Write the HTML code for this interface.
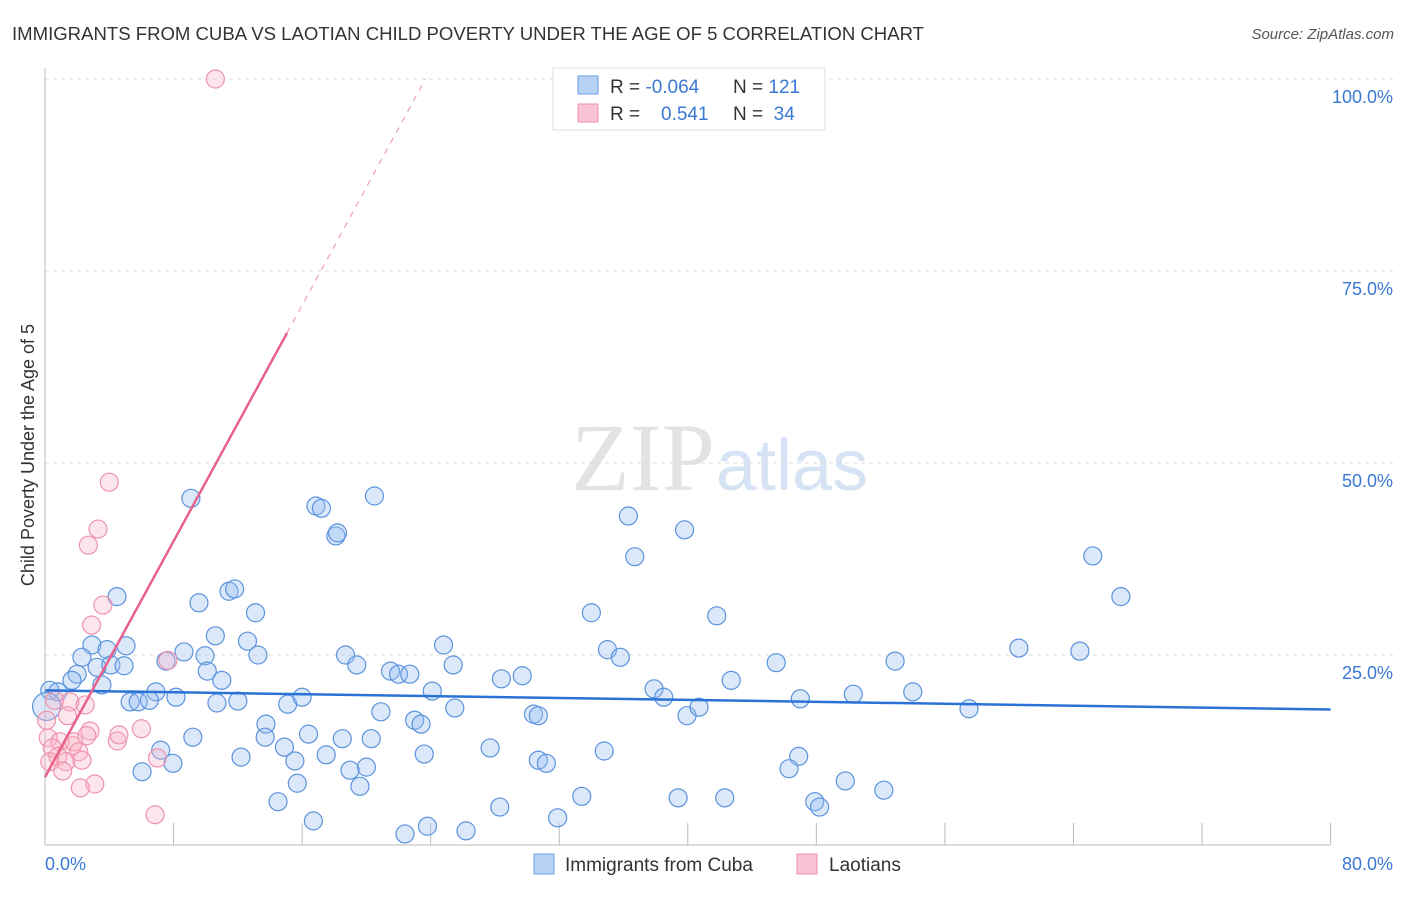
<!DOCTYPE html>
<html><head><meta charset="utf-8"><style>
body{margin:0;background:#fff;font-family:"Liberation Sans",sans-serif}
</style></head><body>
<svg width="1406" height="892" xmlns="http://www.w3.org/2000/svg">
<text x="12" y="40" font-size="18" fill="#333" textLength="912" lengthAdjust="spacingAndGlyphs">IMMIGRANTS FROM CUBA VS LAOTIAN CHILD POVERTY UNDER THE AGE OF 5 CORRELATION CHART</text>
<text x="1394" y="39" font-size="15" fill="#555" font-style="italic" text-anchor="end">Source: ZipAtlas.com</text>
<text x="715" y="490" font-size="96" fill="#e3e3e3" font-family="Liberation Serif,serif" text-anchor="end">ZIP</text>
<text x="716" y="490" font-size="72" fill="#d5e3f5">atlas</text>
<g id="grid"></g><g id="axes"></g><g id="pts"></g><g id="lines"></g>
<text transform="translate(34,455) rotate(-90)" font-size="18" fill="#333" text-anchor="middle">Child Poverty Under the Age of 5</text>
<text x="45" y="870" font-size="18" fill="#3a78d4">0.0%</text>
<text x="1393" y="870" font-size="18" fill="#3a78d4" text-anchor="end">80.0%</text>
<g>
<rect x="553" y="68" width="272" height="62" fill="#fff" stroke="#ddd"/>
<rect x="578" y="76" width="20" height="18" fill="#b7d1f3" stroke="#6a9ee0"/>
<rect x="578" y="104" width="20" height="18" fill="#f9c3d3" stroke="#ec8fab"/>
<text x="610" y="93" font-size="19" fill="#333">R = <tspan fill="#3a78d4">-0.064</tspan></text>
<text x="733" y="93" font-size="19" fill="#333">N = <tspan fill="#3a78d4">121</tspan></text>
<text x="610" y="120" font-size="19" fill="#333">R = <tspan fill="#3a78d4" x="661">0.541</tspan></text>
<text x="733" y="120" font-size="19" fill="#333">N = <tspan fill="#3a78d4">&#160;34</tspan></text>
</g>
<g><rect x="534" y="854" width="20" height="20" fill="#b7d1f3" stroke="#6a9ee0"/><text x="565" y="871" font-size="19" fill="#333">Immigrants from Cuba</text></g>
<g><rect x="797" y="854" width="20" height="20" fill="#f9c3d3" stroke="#ec8fab"/><text x="829" y="871" font-size="19" fill="#333">Laotians</text></g>
</svg>
<script>
const blueX=[9.08,16.86,17.2,20.5,18.1,18.2,36.3,39.8,36.7,65.2,66.95,4.48,9.58,11.45,11.8,13.1,34.0,41.8,2.92,5.04,3.86,2.3,10.6,12.6,8.65,9.96,13.25,18.7,19.4,24.8,25.4,35.0,35.8,45.5,52.9,60.6,64.4,21.5,22.0,22.7,28.4,29.7,2.0,3.24,4.1,4.92,7.53,10.1,11.0,3.54,1.68,24.1,37.9,38.5,42.7,50.3,54.0,47.0,0.3,0.8,6.9,8.15,5.3,5.8,6.5,10.7,12.0,15.1,16.0,25.5,39.95,40.7,30.4,30.7,20.9,23.0,23.4,57.5,13.75,13.7,16.4,18.5,20.3,9.2,7.2,14.9,7.96,12.2,15.55,17.5,23.6,27.7,34.8,30.7,31.2,46.9,46.3,20.0,18.98,6.04,15.7,19.6,49.8,52.2,33.4,14.5,28.3,39.4,42.3,47.9,48.2,16.7,31.9,23.8,22.4,26.2,0.1];
const blueY=[45.4,44.4,44.1,45.7,40.5,40.9,43.1,41.3,37.8,37.9,32.6,32.6,31.8,33.3,33.6,30.5,30.5,30.1,26.3,26.2,25.7,24.7,27.5,26.8,25.4,24.9,25.0,25.0,23.7,26.3,23.7,25.7,24.7,24.0,24.2,25.9,25.5,22.9,22.5,22.5,21.9,22.3,22.5,23.4,23.7,23.6,24.2,22.9,21.7,21.1,21.7,20.3,20.6,19.5,21.7,19.9,20.2,19.3,20.4,20.2,20.2,19.5,18.9,18.9,19.1,18.75,19.0,18.6,19.5,18.1,17.1,18.2,17.3,17.1,17.6,16.5,16.0,18.0,16.0,14.3,14.7,14.1,14.1,14.3,12.6,13.0,10.9,11.7,11.2,12.0,12.1,12.9,12.5,11.3,10.9,11.8,10.2,10.4,10.0,9.8,8.3,7.9,8.6,7.4,6.6,5.9,5.2,6.4,6.4,5.9,5.2,3.4,3.8,2.7,1.7,2.1,18.3];
const pinkX=[10.6,4.0,3.3,2.7,3.6,2.9,7.65,1.55,1.4,0.6,2.5,0.2,0.93,0.45,1.7,1.8,2.8,6.0,4.5,2.1,0.8,0.3,1.3,2.3,1.1,7.0,3.1,2.2,6.85,0.1,2.6,4.6];
const pinkY=[100,47.5,41.4,39.3,31.5,28.9,24.3,18.9,17.1,19.1,18.5,14.2,13.7,12.9,13.2,13.7,15.1,15.4,13.8,12.4,11.8,11.1,11.1,11.3,9.9,11.6,8.2,7.7,4.2,16.5,14.5,14.6];
const blueTrend=[20.4,17.9];
const pinkTrend=[9.1,3.84];
const yTicks=[25,50,75,100];
const yTickLabels=["25.0%","50.0%","75.0%","100.0%"];
const xTicks=[8,16,24,32,40,48,56,64,72,80];
const sx=v=>45+v*16.07, sy=v=>847-v*7.68;
const NS="http://www.w3.org/2000/svg";
function mk(p,t,a){const e=document.createElementNS(NS,t);for(const k in a)e.setAttribute(k,a[k]);document.getElementById(p).appendChild(e);return e;}
yTicks.forEach((t,i)=>{
 const l=mk('grid','line',{x1:45,x2:1393,y1:sy(t),y2:sy(t),stroke:'#ddd','stroke-dasharray':'4,4'});
 
 
 const tx=mk('grid','text',{x:1393,y:sy(t)+24,'font-size':18,fill:'#3a78d4','text-anchor':'end'});tx.textContent=yTickLabels[i];
 
 
});
const ax=mk('axes','line',{x1:45,x2:1330,y1:845,y2:845,stroke:'#bbb'});


const ay=mk('axes','line',{x1:45,x2:45,y1:68,y2:845,stroke:'#bbb'});


xTicks.forEach(t=>{const l=mk('axes','line',{x1:sx(t),x2:sx(t),y1:823,y2:845,stroke:'#bbb'});
 
 });
blueX.forEach((x,i)=>{const r=i===blueX.length-1?14:9;const c=mk('pts','circle',{cx:sx(x),cy:sy(blueY[i]),r:r,fill:'rgba(150,190,240,0.35)',stroke:'#5b93dd','stroke-width':1.2});
 
 });
pinkX.forEach((x,i)=>{const c=mk('pts','circle',{cx:sx(x),cy:sy(pinkY[i]),r:9,fill:'rgba(248,180,200,0.35)',stroke:'#ee93ae','stroke-width':1.2});
 
 });
const bl=mk('lines','line',{x1:sx(0),y1:sy(blueTrend[0]),x2:sx(80),y2:sy(blueTrend[1]),stroke:'#2b72d6','stroke-width':2.5});


const pEnd=15.06, pMax=(100-pinkTrend[0])/pinkTrend[1];
const pl=mk('lines','line',{x1:sx(0),y1:sy(pinkTrend[0]),x2:sx(pEnd),y2:sy(pinkTrend[0]+pinkTrend[1]*pEnd),stroke:'#e8638c','stroke-width':2.5});


const pd=mk('lines','line',{x1:sx(pEnd),y1:sy(pinkTrend[0]+pinkTrend[1]*pEnd),x2:sx(pMax),y2:sy(100),stroke:'#eea0b8','stroke-width':1.2,'stroke-dasharray':'6,6'});


</script>
</body></html>
